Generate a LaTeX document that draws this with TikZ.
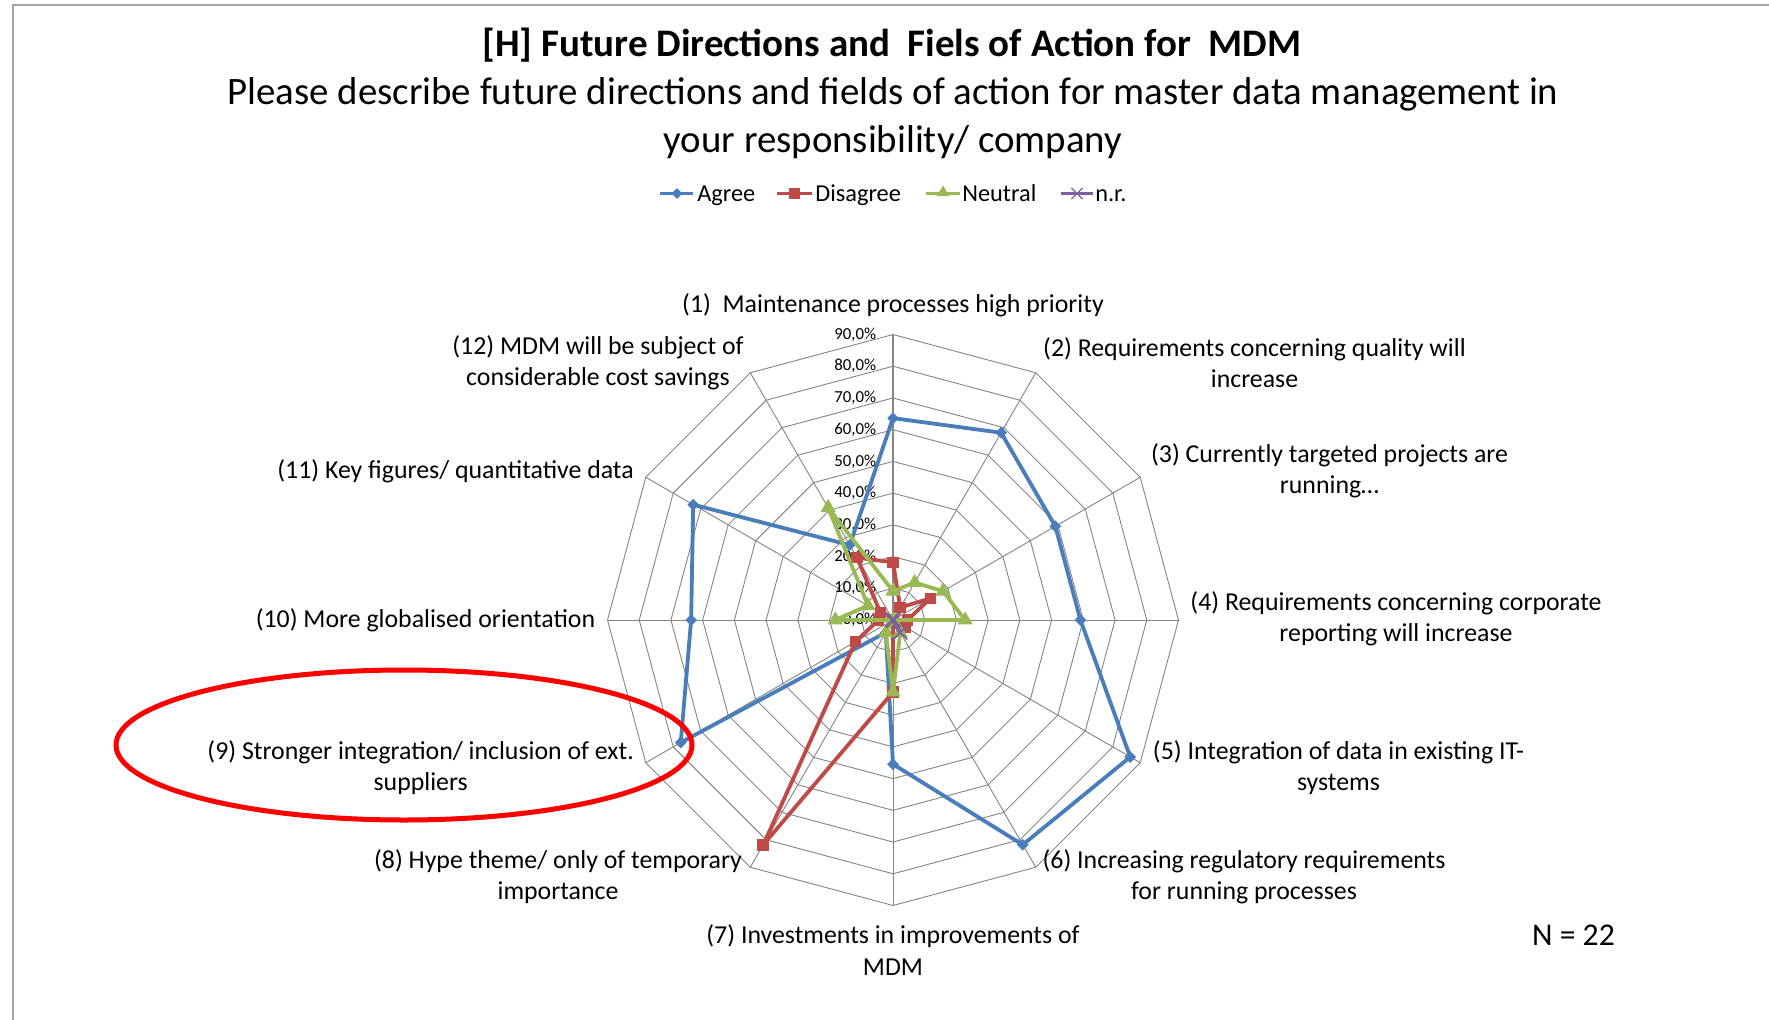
\documentclass[tikz,border=0pt]{standalone}
\usepackage{fontspec}
\setmainfont{Carlito}
\usetikzlibrary{shapes.geometric,shapes.misc}
\definecolor{agreec}{RGB}{74,126,187}
\definecolor{disc}{RGB}{190,75,72}
\definecolor{neuc}{RGB}{152,185,84}
\definecolor{nrc}{RGB}{125,96,160}
\definecolor{gridc}{RGB}{134,134,134}
\definecolor{framec}{RGB}{165,165,165}
\begin{document}
\begin{tikzpicture}[x=0.6pt,y=-0.6pt,
  gridline/.style={draw=gridc,line width=0.55pt},
  lbl/.style={font=\fontsize{15.5}{18.7}\selectfont,align=center,inner sep=0pt},
  ticklbl/.style={font=\fontsize{10.1}{12}\selectfont,anchor=east,inner sep=0pt},
  legtext/.style={font=\fontsize{14.6}{17}\selectfont,anchor=base west,inner sep=0pt},
  serie/.style={line width=2.3pt,line join=round},
  agreemark/.style={diamond,fill=agreec,inner sep=0pt,minimum size=7.2pt},
  dismark/.style={rectangle,fill=disc,inner sep=0pt,minimum size=7pt},
  neumark/.style={regular polygon,regular polygon sides=3,fill=neuc,inner sep=0pt,minimum size=10.5pt},
  nrmark/.style={cross out,draw=nrc,line width=1.2pt,inner sep=0pt,minimum size=7pt},
]
\useasboundingbox (0,0) rectangle (1769,1020);
\fill[white] (0,0) rectangle (1769,1020);
% chart area frame (top and left edges)
\coordinate (fbl) at (13,1020);
\coordinate (ftl) at (13,5);
\coordinate (ftr) at (1769,5);
\draw[framec,line width=1.2pt] (fbl) -- (ftl) -- (ftr);

% titles
\node[font=\fontsize{23.4}{28}\selectfont\bfseries,inner sep=0pt] (title) at (892,45)
  {[H] Future Directions and\ \ Fiels of Action for\ \ MDM};
\node[font=\fontsize{23.3}{28.8}\selectfont,align=center,inner sep=0pt] (sub) at (893,118)
  {Please describe future directions and fields of action for master data management in\\your responsibility/ company};

% legend
\coordinate (la1) at (660,193.5); \coordinate (la2) at (693,193.5);
\draw[serie,agreec,line width=1.8pt] (la1) -- (la2);
\node[agreemark,minimum size=6.5pt] (lam) at (677,193.5) {};
\node[legtext] (lat) at (697,201.5) {Agree};
\coordinate (ld1) at (777,193.5); \coordinate (ld2) at (812,193.5);
\draw[serie,disc,line width=1.8pt] (ld1) -- (ld2);
\node[dismark,minimum size=6.3pt] (ldm) at (794.5,193.5) {};
\node[legtext] (ldt) at (815,201.5) {Disagree};
\coordinate (ln1) at (926,193.5); \coordinate (ln2) at (960,193.5);
\draw[serie,neuc,line width=1.8pt] (ln1) -- (ln2);
\node[neumark,minimum size=8.5pt] (lnm) at (943,192.5) {};
\node[legtext] (lnt) at (962,201.5) {Neutral};
\coordinate (lr1) at (1061,193.5); \coordinate (lr2) at (1093,193.5);
\draw[serie,nrc,line width=1.8pt] (lr1) -- (lr2);
\node[nrmark,line width=0.7pt,minimum size=6pt] (lrm) at (1077,193.5) {};
\node[legtext] (lrt) at (1095,201.5) {n.r.};

% radar grid
\begin{scope}[shift={(893,620)}]
  \coordinate (ctr) at (0,0);
  \foreach \k in {1,...,9}{
    \draw[gridline] (-90:{\k*31.72}) \foreach \a in {-60,-30,...,240}{ -- (\a:{\k*31.72})} -- cycle;
  }
  \foreach \a in {-60,-30,...,240}{
    \coordinate (sp\a) at (\a:285.5);
    \draw[gridline] (ctr) -- (sp\a);
  }
  \coordinate (sptop) at (-90:285.5);
  \draw[gridline,line width=0.9pt] (ctr) -- (sptop);
  \foreach \k in {0,...,9}{
    \pgfmathtruncatemacro{\p}{10*\k}
    \node[ticklbl] (tk\k) at (-16.5,{-\k*31.72}) {\p,0\%};
  }
  % data
  \foreach \v [count=\i] in {63.64,68.18,59.09,59.09,86.36,81.82,45.45,4.55,77.27,63.64,72.73,27.27}
    \coordinate (A\i) at ({30*\i-120}:{\v*3.172});
  \foreach \v [count=\i] in {18.18,4.55,13.64,4.55,4.55,0,22.73,81.82,13.64,4.55,4.55,22.73}
    \coordinate (D\i) at ({30*\i-120}:{\v*3.172});
  \foreach \v [count=\i] in {9.09,13.64,18.18,22.73,0,4.55,22.73,4.55,0,18.18,9.09,40.91}
    \coordinate (N\i) at ({30*\i-120}:{\v*3.172});
  \foreach \v [count=\i] in {0,0,0,0,0,4.55,0,0,0,0,0,0}
    \coordinate (R\i) at ({30*\i-120}:{\v*3.172});
\end{scope}

\draw[serie,agreec] (A1) \foreach \i in {2,...,12}{ -- (A\i)} -- cycle;
\foreach \i in {1,...,12} \node[agreemark] (am\i) at (A\i) {};
\draw[serie,disc] (D1) \foreach \i in {2,...,12}{ -- (D\i)} -- cycle;
\foreach \i in {1,...,12} \node[dismark] (dm\i) at (D\i) {};
\draw[serie,neuc] (N1) \foreach \i in {2,...,12}{ -- (N\i)} -- cycle;
\foreach \i in {1,...,12} \node[neumark] (nm\i) at (N\i) {};
\draw[serie,nrc] (R1) \foreach \i in {2,...,12}{ -- (R\i)} -- cycle;
\foreach \i in {1,...,12} \node[nrmark] (rm\i) at (R\i) {};

% category labels
\node[lbl] (c1) at (893,305) {(1)\ \ Maintenance processes high priority};
\node[lbl] (c2) at (1254.5,362.5) {(2) Requirements concerning quality will\\increase};
\node[lbl] (c3) at (1329.5,471) {(3) Currently targeted projects are\\running…};
\node[lbl] (c4) at (1396,619) {(4) Requirements concerning corporate\\reporting will increase};
\node[lbl] (c5) at (1338.5,767.5) {(5) Integration of data in existing IT-\\systems};
\node[lbl] (c6) at (1244,876.5) {(6) Increasing regulatory requirements\\for running processes};
\node[lbl] (c7) at (893,950) {(7) Investments in improvements of\\MDM};
\node[lbl] (c8) at (558,876.5) {(8) Hype theme/ only of temporary\\importance};
\node[lbl] (c9) at (420.7,768) {(9) Stronger integration/ inclusion of ext.\\suppliers};
\node[lbl] (c10) at (425.5,620) {(10) More globalised orientation};
\node[lbl] (c11) at (455.5,471.5) {(11) Key figures/ quantitative data};
\node[lbl] (c12) at (598,362.5) {(12) MDM will be subject of\\considerable cost savings};

% highlight
\node[draw=red,line width=3pt,ellipse,minimum width=576*0.6pt,minimum height=150*0.6pt,inner sep=0pt] (hl) at (404,745) {};

\node[font=\fontsize{19}{22}\selectfont,inner sep=0pt] (nn) at (1573.5,935) {N = 22};
\end{tikzpicture}
\end{document}
